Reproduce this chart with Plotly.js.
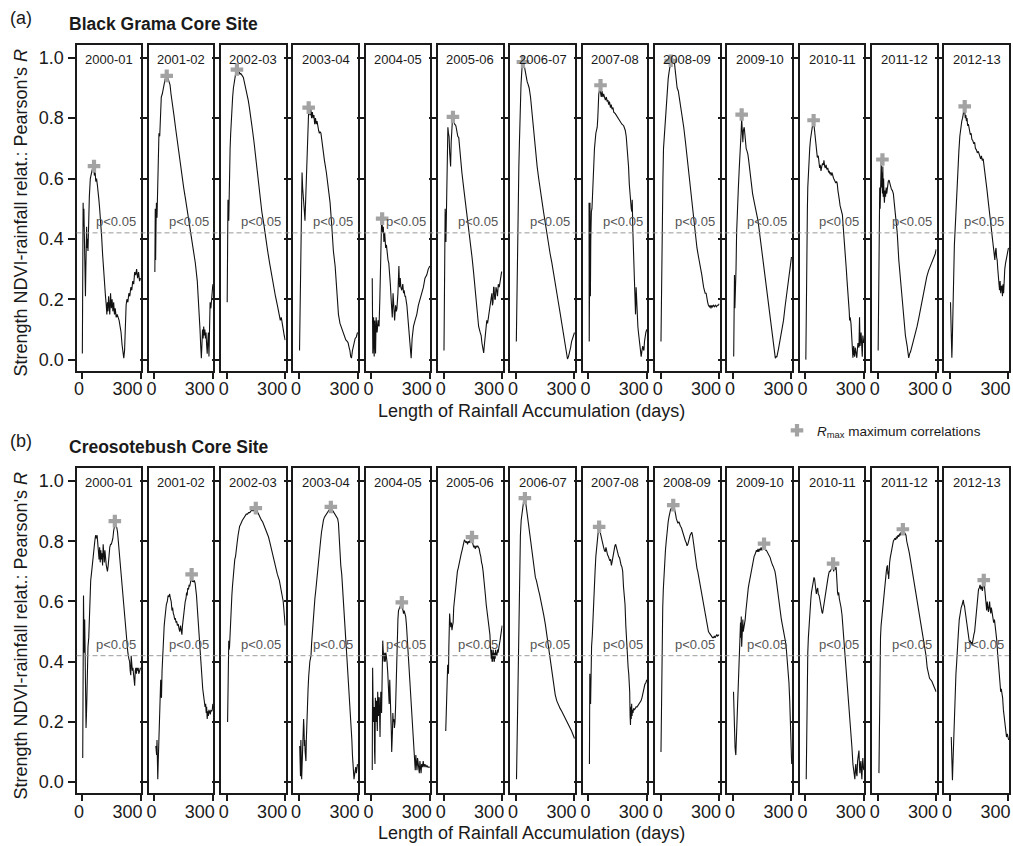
<!DOCTYPE html>
<html><head><meta charset="utf-8">
<script src="https://cdn.plot.ly/plotly-3.0.1.min.js"></script>
<style>html,body{margin:0;padding:0;background:#fff;}#chart{width:1013px;height:846px;}</style>
</head><body><div id="chart"></div>
<script>
// ---------- DATA ----------
const seasons = ['2000-01','2001-02','2002-03','2003-04','2004-05','2005-06','2006-07','2007-08','2008-09','2009-10','2010-11','2011-12','2012-13'];
const xTickVals = [0, 300];
const yTickVals = [0, 0.2, 0.4, 0.6, 0.8, 1.0];
const pThreshold = 0.42;
const pLabel = 'p&lt;0.05';

// Black Grama core site: [days, Pearson R]
const bg2000 = [[1,0.02],[3,0.30],[5,0.52],[7,0.44],[9,0.50],[11,0.40],[13,0.33],[15,0.26],[17,0.21],[19,0.30],[21,0.38],[23,0.44],[25,0.37],[27,0.40],[30,0.36],[33,0.45],[37,0.54],[42,0.60],[47,0.62],[52,0.63],[57,0.635],[60,0.63],[63,0.61],[67,0.62],[70,0.59],[74,0.60],[78,0.58],[82,0.56],[86,0.53],[90,0.50],[95,0.46],[100,0.41],[105,0.35],[110,0.29],[115,0.24],[120,0.21],[124,0.18],[127,0.15],[130,0.19],[133,0.16],[136,0.21],[139,0.17],[142,0.15],[146,0.22],[150,0.17],[154,0.20],[158,0.16],[162,0.19],[166,0.15],[170,0.17],[175,0.14],[180,0.15],[185,0.14],[190,0.13],[195,0.11],[200,0.09],[205,0.05],[210,0.02],[214,0.005],[218,0.03],[222,0.12],[226,0.18],[230,0.20],[235,0.19],[240,0.22],[245,0.21],[250,0.24],[255,0.23],[260,0.26],[265,0.25],[270,0.29],[275,0.28],[280,0.30],[285,0.27],[290,0.29],[295,0.26],[300,0.27]];
const bg2001 = [[2,0.29],[4,0.50],[6,0.33],[8,0.45],[10,0.52],[13,0.47],[16,0.58],[20,0.70],[23,0.75],[27,0.74],[31,0.80],[35,0.87],[40,0.88],[45,0.90],[50,0.91],[55,0.93],[60,0.935],[65,0.93],[70,0.93],[75,0.92],[80,0.91],[85,0.88],[90,0.85],[95,0.83],[100,0.81],[110,0.76],[120,0.71],[130,0.66],[140,0.62],[150,0.57],[160,0.53],[170,0.49],[180,0.44],[190,0.40],[200,0.36],[210,0.32],[220,0.26],[228,0.18],[234,0.10],[238,0.04],[241,0.005],[244,0.05],[247,0.10],[250,0.07],[253,0.11],[256,0.08],[259,0.10],[262,0.07],[265,0.09],[268,0.05],[271,0.02],[274,0.06],[277,0.09],[280,0.01],[283,0.10],[286,0.19],[290,0.17],[294,0.20],[298,0.22],[300,0.25]];
const bg2002 = [[2,0.19],[4,0.45],[6,0.53],[8,0.47],[10,0.46],[12,0.58],[14,0.64],[17,0.70],[20,0.75],[23,0.80],[26,0.84],[30,0.87],[34,0.90],[38,0.92],[42,0.935],[46,0.95],[51,0.958],[56,0.955],[60,0.95],[64,0.952],[68,0.946],[72,0.948],[76,0.94],[80,0.94],[85,0.935],[90,0.92],[95,0.91],[100,0.90],[105,0.88],[110,0.86],[115,0.84],[120,0.82],[130,0.77],[140,0.72],[150,0.66],[160,0.60],[170,0.55],[180,0.49],[190,0.45],[200,0.40],[210,0.36],[220,0.32],[230,0.28],[240,0.24],[250,0.21],[260,0.18],[270,0.15],[275,0.13],[280,0.14],[285,0.11],[290,0.10],[295,0.08],[300,0.065]];
const bg2003 = [[2,0.03],[4,0.12],[6,0.20],[9,0.28],[12,0.40],[15,0.62],[18,0.57],[21,0.55],[24,0.52],[27,0.49],[30,0.46],[33,0.52],[36,0.58],[39,0.66],[42,0.73],[45,0.78],[49,0.826],[53,0.82],[56,0.81],[60,0.83],[64,0.80],[68,0.82],[72,0.80],[76,0.81],[80,0.78],[84,0.80],[88,0.78],[92,0.79],[96,0.77],[100,0.76],[104,0.75],[108,0.755],[112,0.75],[116,0.73],[120,0.70],[130,0.66],[140,0.62],[150,0.57],[159,0.52],[168,0.44],[176,0.36],[185,0.31],[193,0.22],[202,0.15],[210,0.12],[220,0.10],[230,0.085],[240,0.065],[248,0.06],[252,0.055],[257,0.04],[261,0.03],[265,0.01],[269,0.005],[274,0.03],[278,0.045],[283,0.05],[288,0.07],[294,0.075],[300,0.09]];
const bg2004 = [[4,0.27],[7,0.02],[11,0.14],[14,0.01],[17,0.13],[21,0.02],[24,0.14],[29,0.09],[34,0.13],[39,0.11],[43,0.20],[46,0.31],[49,0.40],[52,0.46],[55,0.45],[58,0.42],[61,0.44],[64,0.39],[68,0.42],[73,0.37],[77,0.38],[80,0.35],[85,0.33],[89,0.32],[93,0.29],[97,0.25],[102,0.19],[105,0.15],[107,0.14],[111,0.22],[114,0.16],[119,0.13],[124,0.18],[128,0.16],[131,0.17],[136,0.22],[141,0.31],[144,0.24],[148,0.27],[151,0.24],[156,0.23],[161,0.25],[165,0.22],[168,0.23],[172,0.21],[175,0.21],[182,0.18],[187,0.14],[191,0.10],[195,0.06],[199,0.02],[204,0.005],[209,0.07],[216,0.11],[224,0.13],[233,0.15],[241,0.18],[250,0.20],[258,0.22],[267,0.24],[275,0.27],[284,0.28],[292,0.30],[300,0.31]];
const bg2005 = [[1,0.03],[3,0.20],[5,0.40],[7,0.50],[9,0.45],[11,0.39],[13,0.50],[15,0.60],[18,0.72],[21,0.77],[24,0.75],[27,0.74],[30,0.69],[33,0.66],[35,0.64],[38,0.72],[41,0.77],[44,0.79],[48,0.80],[52,0.79],[56,0.78],[62,0.775],[68,0.75],[72,0.74],[77,0.735],[81,0.70],[85,0.66],[93,0.62],[102,0.57],[110,0.53],[119,0.485],[128,0.44],[136,0.385],[145,0.34],[153,0.29],[162,0.22],[170,0.165],[179,0.11],[187,0.09],[192,0.08],[196,0.055],[201,0.04],[205,0.022],[208,0.045],[213,0.09],[217,0.11],[221,0.13],[225,0.12],[230,0.145],[234,0.16],[238,0.175],[242,0.20],[247,0.22],[250,0.18],[253,0.19],[256,0.24],[258,0.24],[262,0.20],[265,0.20],[268,0.24],[272,0.23],[276,0.21],[280,0.25],[285,0.24],[289,0.26],[293,0.27],[297,0.29],[300,0.29]];
const bg2006 = [[1,0.06],[3,0.18],[5,0.29],[8,0.37],[10,0.45],[12,0.53],[14,0.64],[17,0.72],[20,0.83],[25,0.91],[30,0.965],[35,0.985],[40,0.98],[44,0.965],[48,0.945],[53,0.925],[57,0.92],[60,0.915],[67,0.90],[74,0.87],[78,0.84],[82,0.815],[87,0.78],[91,0.75],[95,0.72],[99,0.685],[104,0.66],[108,0.64],[116,0.60],[125,0.55],[134,0.52],[142,0.485],[150,0.45],[158,0.42],[167,0.385],[175,0.35],[184,0.32],[192,0.285],[200,0.25],[209,0.22],[217,0.19],[226,0.155],[234,0.12],[243,0.09],[252,0.045],[258,0.02],[264,0.002],[269,0.01],[274,0.022],[280,0.04],[285,0.06],[291,0.075],[296,0.08],[300,0.09]];
const bg2007 = [[3,0.52],[4,0.06],[6,0.30],[8,0.52],[10,0.21],[12,0.40],[15,0.49],[18,0.50],[20,0.53],[25,0.64],[31,0.70],[38,0.75],[45,0.77],[48,0.80],[50,0.86],[53,0.88],[56,0.89],[60,0.905],[63,0.88],[66,0.87],[70,0.89],[74,0.87],[78,0.88],[82,0.865],[87,0.86],[92,0.87],[96,0.855],[100,0.86],[104,0.845],[108,0.855],[113,0.835],[117,0.845],[121,0.83],[126,0.835],[130,0.82],[138,0.815],[147,0.805],[155,0.80],[164,0.79],[172,0.78],[181,0.775],[189,0.76],[194,0.74],[198,0.71],[202,0.68],[206,0.64],[210,0.58],[215,0.53],[220,0.50],[223,0.49],[225,0.53],[228,0.43],[232,0.33],[235,0.27],[237,0.23],[240,0.17],[242,0.15],[245,0.24],[247,0.19],[250,0.14],[254,0.11],[257,0.09],[261,0.07],[265,0.045],[268,0.03],[271,0.01],[275,0.03],[279,0.045],[282,0.035],[285,0.03],[288,0.06],[291,0.085],[295,0.09],[300,0.10]];
const bg2008 = [[1,0.06],[3,0.20],[5,0.42],[8,0.48],[11,0.60],[14,0.70],[17,0.73],[20,0.76],[23,0.80],[27,0.85],[30,0.88],[34,0.91],[38,0.93],[42,0.95],[47,0.98],[52,0.99],[57,0.99],[62,0.995],[66,0.99],[70,0.985],[74,0.96],[78,0.935],[84,0.90],[90,0.89],[95,0.87],[101,0.85],[110,0.81],[118,0.77],[127,0.72],[135,0.67],[144,0.63],[152,0.57],[160,0.52],[169,0.46],[177,0.42],[186,0.37],[194,0.34],[203,0.31],[211,0.28],[220,0.24],[228,0.22],[233,0.22],[237,0.20],[241,0.19],[245,0.18],[250,0.175],[254,0.18],[258,0.17],[262,0.18],[266,0.175],[271,0.18],[276,0.175],[281,0.18],[286,0.175],[291,0.18],[296,0.18],[300,0.185]];
const bg2009 = [[3,0.01],[5,0.08],[7,0.28],[9,0.17],[11,0.29],[13,0.24],[15,0.30],[18,0.42],[22,0.51],[27,0.57],[32,0.64],[37,0.69],[41,0.75],[44,0.80],[47,0.73],[50,0.72],[53,0.76],[57,0.77],[60,0.75],[63,0.72],[67,0.70],[72,0.69],[76,0.68],[80,0.66],[86,0.62],[93,0.58],[100,0.55],[106,0.53],[112,0.51],[118,0.50],[123,0.48],[128,0.46],[134,0.43],[140,0.40],[149,0.35],[157,0.31],[166,0.26],[174,0.22],[183,0.18],[191,0.13],[200,0.09],[208,0.045],[213,0.02],[217,0.005],[222,0.01],[225,0.01],[233,0.035],[242,0.065],[250,0.10],[259,0.13],[267,0.175],[276,0.22],[284,0.245],[293,0.29],[300,0.34]];
const bg2010 = [[2,0.0],[4,0.20],[6,0.30],[8,0.42],[10,0.50],[12,0.57],[15,0.62],[18,0.66],[22,0.70],[26,0.73],[30,0.755],[35,0.77],[39,0.775],[42,0.79],[46,0.765],[50,0.74],[53,0.715],[57,0.69],[61,0.67],[66,0.675],[70,0.66],[73,0.635],[76,0.645],[80,0.625],[84,0.64],[88,0.65],[92,0.645],[95,0.66],[99,0.64],[102,0.635],[106,0.645],[110,0.63],[115,0.635],[119,0.62],[122,0.625],[126,0.615],[129,0.62],[133,0.61],[136,0.62],[140,0.605],[145,0.60],[149,0.595],[153,0.585],[156,0.585],[160,0.59],[163,0.585],[167,0.56],[170,0.55],[174,0.53],[178,0.51],[183,0.50],[186,0.49],[190,0.48],[193,0.45],[197,0.42],[201,0.39],[205,0.35],[210,0.30],[214,0.26],[218,0.23],[222,0.20],[225,0.16],[227,0.13],[230,0.14],[234,0.12],[237,0.08],[239,0.045],[242,0.02],[244,0.006],[246,0.03],[248,0.045],[250,0.02],[253,0.01],[256,0.04],[258,0.03],[261,0.015],[264,0.006],[267,0.035],[270,0.055],[273,0.045],[275,0.04],[278,0.14],[281,0.045],[284,0.07],[286,0.09],[289,0.05],[292,0.01],[295,0.08],[298,0.06],[300,0.055]];
const bg2011 = [[2,0.03],[4,0.25],[6,0.44],[8,0.40],[10,0.57],[12,0.50],[14,0.64],[16,0.53],[18,0.66],[20,0.57],[22,0.62],[24,0.55],[26,0.64],[28,0.54],[30,0.60],[32,0.55],[34,0.52],[37,0.56],[40,0.54],[43,0.57],[46,0.55],[50,0.58],[54,0.59],[58,0.595],[62,0.58],[66,0.575],[70,0.565],[75,0.56],[80,0.55],[85,0.52],[90,0.49],[95,0.46],[100,0.42],[108,0.33],[117,0.265],[125,0.20],[134,0.13],[142,0.08],[151,0.045],[159,0.006],[164,0.02],[168,0.025],[176,0.045],[185,0.065],[193,0.09],[202,0.11],[210,0.135],[219,0.165],[227,0.20],[236,0.23],[244,0.25],[252,0.275],[261,0.295],[270,0.31],[278,0.32],[286,0.335],[295,0.35],[300,0.365]];
const bg2012 = [[2,0.19],[4,0.08],[6,0.02],[9,0.006],[11,0.05],[13,0.13],[16,0.22],[19,0.32],[22,0.38],[25,0.42],[30,0.50],[35,0.56],[40,0.63],[45,0.69],[50,0.74],[55,0.77],[60,0.79],[64,0.80],[68,0.815],[72,0.83],[75,0.825],[78,0.80],[81,0.81],[84,0.79],[87,0.80],[90,0.775],[94,0.78],[97,0.765],[100,0.76],[104,0.745],[108,0.75],[112,0.73],[117,0.725],[122,0.715],[126,0.72],[130,0.70],[135,0.695],[140,0.685],[145,0.69],[149,0.68],[153,0.675],[157,0.665],[161,0.675],[165,0.66],[170,0.665],[175,0.64],[181,0.62],[186,0.58],[190,0.56],[195,0.53],[200,0.50],[205,0.47],[210,0.45],[215,0.43],[220,0.39],[224,0.37],[227,0.35],[230,0.33],[233,0.36],[236,0.37],[239,0.34],[242,0.33],[245,0.30],[248,0.27],[251,0.24],[254,0.23],[257,0.26],[260,0.22],[263,0.24],[266,0.245],[269,0.21],[272,0.25],[275,0.22],[278,0.27],[281,0.30],[285,0.32],[290,0.34],[295,0.35],[300,0.37]];
const bgMaxDay = [61, 63, 52, 49, 55, 47, 35, 62, 51, 44, 42, 24, 75];
const bgMaxR = [0.641, 0.94, 0.961, 0.835, 0.467, 0.804, 0.986, 0.909, 0.99, 0.812, 0.793, 0.663, 0.839];

// Creosotebush core site: [days, Pearson R]
const cs2000 = [[3,0.08],[5,0.40],[7,0.62],[9,0.50],[11,0.43],[13,0.54],[15,0.45],[17,0.34],[20,0.18],[22,0.22],[24,0.27],[27,0.42],[30,0.45],[34,0.48],[39,0.60],[44,0.67],[49,0.70],[53,0.73],[57,0.76],[61,0.79],[65,0.80],[69,0.82],[73,0.81],[77,0.82],[81,0.79],[84,0.76],[87,0.74],[90,0.78],[93,0.73],[96,0.77],[99,0.74],[102,0.76],[105,0.72],[108,0.79],[111,0.75],[114,0.73],[117,0.77],[120,0.74],[124,0.72],[127,0.71],[130,0.70],[134,0.72],[138,0.76],[142,0.78],[146,0.79],[150,0.79],[154,0.80],[158,0.81],[162,0.835],[166,0.85],[170,0.862],[174,0.85],[178,0.845],[182,0.83],[186,0.80],[190,0.77],[195,0.735],[200,0.69],[205,0.65],[210,0.61],[215,0.57],[220,0.53],[225,0.49],[230,0.46],[235,0.43],[240,0.41],[244,0.40],[247,0.37],[250,0.355],[252,0.42],[255,0.40],[258,0.37],[261,0.38],[264,0.35],[267,0.33],[270,0.32],[273,0.37],[276,0.38],[279,0.36],[282,0.38],[285,0.37],[288,0.38],[291,0.36],[294,0.37],[297,0.375],[300,0.38]];
const cs2001 = [[7,0.12],[9,0.10],[11,0.09],[13,0.14],[15,0.06],[17,0.01],[19,0.06],[21,0.10],[24,0.20],[27,0.25],[30,0.29],[32,0.34],[34,0.29],[36,0.28],[39,0.37],[43,0.45],[46,0.48],[50,0.52],[53,0.54],[57,0.57],[61,0.59],[66,0.60],[70,0.62],[74,0.615],[78,0.625],[82,0.61],[86,0.60],[90,0.57],[93,0.58],[97,0.56],[100,0.555],[104,0.54],[107,0.545],[111,0.53],[114,0.535],[118,0.52],[122,0.525],[126,0.51],[130,0.50],[134,0.52],[138,0.50],[141,0.49],[144,0.52],[147,0.54],[151,0.55],[155,0.58],[158,0.60],[162,0.61],[165,0.63],[168,0.62],[171,0.645],[175,0.64],[178,0.655],[181,0.65],[185,0.665],[188,0.67],[192,0.685],[195,0.665],[198,0.67],[202,0.665],[205,0.67],[209,0.66],[213,0.64],[216,0.62],[220,0.58],[224,0.54],[228,0.50],[232,0.45],[236,0.41],[240,0.37],[244,0.34],[248,0.31],[252,0.29],[256,0.27],[260,0.25],[263,0.26],[266,0.23],[268,0.25],[271,0.21],[274,0.235],[277,0.22],[280,0.24],[284,0.23],[287,0.225],[290,0.24],[294,0.235],[297,0.24],[300,0.26]];
const cs2002 = [[4,0.20],[6,0.29],[8,0.42],[10,0.47],[12,0.44],[14,0.45],[17,0.51],[20,0.55],[23,0.59],[26,0.62],[29,0.65],[33,0.68],[37,0.72],[41,0.74],[45,0.75],[50,0.77],[54,0.80],[58,0.82],[62,0.84],[66,0.85],[70,0.855],[75,0.865],[80,0.87],[85,0.875],[90,0.88],[95,0.885],[100,0.89],[106,0.89],[112,0.895],[118,0.895],[124,0.90],[130,0.905],[136,0.90],[142,0.91],[148,0.91],[154,0.905],[160,0.895],[166,0.885],[172,0.875],[178,0.87],[184,0.865],[190,0.855],[196,0.85],[202,0.84],[208,0.83],[214,0.815],[220,0.80],[230,0.77],[240,0.74],[250,0.72],[260,0.69],[270,0.67],[280,0.64],[290,0.60],[300,0.52]];
const cs2003 = [[3,0.12],[5,0.09],[7,0.02],[9,0.14],[11,0.05],[13,0.01],[15,0.05],[17,0.09],[19,0.10],[21,0.14],[23,0.21],[25,0.18],[27,0.12],[29,0.14],[31,0.10],[33,0.08],[35,0.07],[37,0.14],[40,0.23],[43,0.27],[46,0.31],[49,0.35],[52,0.39],[55,0.40],[58,0.41],[61,0.42],[64,0.46],[68,0.50],[72,0.54],[77,0.58],[81,0.61],[86,0.64],[90,0.67],[95,0.70],[100,0.73],[105,0.77],[110,0.80],[115,0.83],[120,0.855],[125,0.87],[130,0.88],[135,0.885],[140,0.89],[145,0.895],[150,0.90],[155,0.905],[160,0.91],[165,0.91],[170,0.905],[176,0.90],[182,0.89],[188,0.885],[193,0.88],[198,0.875],[202,0.86],[206,0.80],[210,0.76],[214,0.72],[219,0.69],[223,0.64],[227,0.60],[232,0.55],[236,0.51],[240,0.47],[244,0.43],[248,0.39],[252,0.35],[256,0.30],[261,0.25],[264,0.22],[268,0.17],[271,0.14],[274,0.09],[277,0.05],[280,0.02],[282,0.01],[285,0.025],[288,0.04],[291,0.05],[294,0.03],[297,0.05],[300,0.06]];
const cs2004 = [[4,0.04],[6,0.38],[8,0.28],[10,0.20],[12,0.25],[14,0.25],[16,0.10],[18,0.06],[20,0.28],[22,0.24],[24,0.20],[26,0.27],[28,0.22],[30,0.17],[32,0.30],[34,0.23],[36,0.22],[38,0.28],[40,0.28],[42,0.22],[44,0.15],[46,0.24],[48,0.30],[50,0.27],[52,0.23],[54,0.35],[56,0.40],[58,0.47],[60,0.44],[62,0.42],[65,0.40],[68,0.43],[71,0.40],[74,0.43],[77,0.42],[80,0.40],[84,0.36],[88,0.30],[91,0.26],[94,0.34],[97,0.29],[100,0.24],[102,0.17],[104,0.10],[106,0.12],[108,0.17],[110,0.23],[112,0.20],[115,0.21],[118,0.18],[121,0.20],[124,0.25],[127,0.34],[130,0.40],[133,0.48],[136,0.54],[139,0.57],[143,0.58],[147,0.585],[151,0.59],[155,0.595],[158,0.58],[161,0.575],[165,0.56],[168,0.57],[172,0.56],[176,0.55],[180,0.52],[184,0.48],[188,0.44],[192,0.39],[196,0.34],[200,0.28],[204,0.24],[208,0.20],[212,0.17],[216,0.13],[220,0.10],[223,0.07],[225,0.04],[228,0.09],[231,0.05],[234,0.04],[237,0.08],[240,0.06],[243,0.05],[246,0.03],[249,0.07],[252,0.04],[255,0.03],[258,0.06],[262,0.05],[266,0.07],[270,0.05],[275,0.06],[280,0.05],[285,0.055],[290,0.05],[295,0.05],[300,0.05]];
const cs2005 = [[10,0.17],[12,0.24],[14,0.27],[16,0.33],[18,0.36],[20,0.39],[22,0.38],[24,0.36],[26,0.45],[28,0.54],[30,0.56],[33,0.53],[36,0.515],[39,0.53],[42,0.505],[45,0.52],[48,0.53],[51,0.58],[55,0.61],[59,0.63],[62,0.64],[66,0.67],[70,0.70],[74,0.71],[78,0.725],[82,0.735],[86,0.745],[90,0.76],[94,0.77],[98,0.785],[102,0.80],[106,0.805],[110,0.80],[114,0.795],[118,0.80],[122,0.79],[126,0.80],[130,0.795],[134,0.80],[138,0.81],[142,0.81],[146,0.80],[150,0.795],[154,0.78],[158,0.785],[162,0.775],[166,0.785],[170,0.78],[174,0.785],[178,0.78],[182,0.775],[186,0.76],[190,0.75],[194,0.73],[198,0.72],[202,0.70],[206,0.68],[210,0.65],[214,0.62],[218,0.59],[222,0.57],[226,0.55],[230,0.53],[234,0.51],[237,0.49],[240,0.45],[242,0.43],[244,0.41],[246,0.44],[248,0.40],[250,0.43],[252,0.40],[254,0.44],[256,0.41],[258,0.43],[260,0.40],[262,0.43],[264,0.41],[266,0.44],[268,0.42],[270,0.43],[273,0.42],[276,0.44],[279,0.43],[282,0.45],[285,0.455],[289,0.47],[293,0.49],[297,0.515],[300,0.52]];
const cs2006 = [[2,0.01],[4,0.10],[6,0.20],[8,0.33],[9,0.38],[11,0.46],[13,0.50],[16,0.62],[19,0.75],[22,0.82],[26,0.87],[30,0.895],[34,0.91],[38,0.93],[42,0.935],[45,0.94],[48,0.935],[52,0.915],[56,0.89],[60,0.865],[64,0.855],[67,0.84],[72,0.81],[76,0.79],[82,0.76],[87,0.73],[91,0.71],[95,0.695],[99,0.68],[104,0.67],[108,0.655],[112,0.645],[116,0.635],[120,0.625],[125,0.61],[130,0.60],[135,0.585],[142,0.555],[150,0.525],[158,0.49],[167,0.45],[175,0.405],[184,0.36],[192,0.325],[201,0.29],[209,0.27],[218,0.255],[226,0.245],[235,0.235],[243,0.225],[252,0.215],[260,0.205],[268,0.195],[277,0.18],[285,0.17],[291,0.16],[300,0.145]];
const cs2007 = [[5,0.06],[7,0.36],[9,0.30],[11,0.26],[13,0.40],[16,0.45],[20,0.49],[23,0.55],[26,0.59],[30,0.65],[34,0.70],[38,0.75],[42,0.78],[46,0.81],[50,0.83],[55,0.845],[58,0.835],[62,0.83],[66,0.815],[70,0.80],[74,0.79],[78,0.78],[82,0.77],[86,0.765],[90,0.78],[94,0.765],[98,0.755],[102,0.75],[106,0.745],[110,0.735],[114,0.74],[118,0.72],[121,0.73],[124,0.74],[128,0.76],[132,0.78],[136,0.785],[140,0.79],[143,0.78],[147,0.77],[151,0.76],[155,0.75],[160,0.745],[164,0.73],[168,0.72],[172,0.715],[176,0.70],[180,0.65],[184,0.62],[188,0.59],[192,0.52],[196,0.46],[200,0.41],[204,0.38],[207,0.36],[210,0.33],[212,0.30],[214,0.22],[216,0.19],[218,0.25],[220,0.21],[222,0.26],[224,0.22],[226,0.24],[229,0.23],[232,0.245],[236,0.24],[240,0.245],[245,0.25],[250,0.25],[255,0.255],[260,0.26],[265,0.265],[270,0.27],[275,0.28],[280,0.30],[285,0.32],[290,0.325],[295,0.33],[300,0.34]];
const cs2008 = [[1,0.10],[3,0.25],[5,0.36],[7,0.48],[10,0.58],[13,0.64],[16,0.69],[20,0.72],[24,0.77],[28,0.80],[33,0.845],[38,0.865],[42,0.88],[46,0.895],[50,0.905],[55,0.91],[60,0.915],[64,0.92],[68,0.915],[72,0.905],[76,0.89],[80,0.875],[84,0.87],[88,0.86],[93,0.865],[97,0.855],[101,0.85],[106,0.845],[110,0.835],[114,0.83],[118,0.82],[122,0.81],[127,0.80],[131,0.795],[135,0.785],[139,0.79],[143,0.80],[147,0.815],[151,0.82],[155,0.825],[159,0.83],[163,0.82],[167,0.80],[171,0.78],[175,0.75],[180,0.73],[186,0.71],[190,0.70],[194,0.685],[199,0.67],[203,0.655],[207,0.635],[211,0.62],[216,0.60],[220,0.585],[224,0.57],[228,0.55],[232,0.54],[237,0.525],[241,0.51],[245,0.50],[250,0.495],[254,0.49],[258,0.485],[262,0.485],[266,0.48],[271,0.48],[275,0.485],[279,0.48],[284,0.485],[288,0.49],[292,0.485],[296,0.49],[300,0.49]];
const cs2009 = [[2,0.30],[4,0.22],[6,0.14],[8,0.13],[10,0.115],[12,0.10],[14,0.09],[16,0.13],[18,0.17],[20,0.20],[22,0.24],[24,0.27],[26,0.33],[28,0.35],[30,0.38],[32,0.40],[34,0.44],[36,0.47],[38,0.53],[40,0.48],[42,0.55],[44,0.45],[46,0.52],[48,0.47],[50,0.54],[52,0.50],[55,0.51],[58,0.53],[62,0.54],[66,0.57],[70,0.60],[74,0.62],[78,0.645],[82,0.66],[86,0.675],[90,0.68],[95,0.70],[100,0.72],[104,0.735],[108,0.75],[112,0.755],[116,0.765],[120,0.77],[124,0.765],[128,0.775],[132,0.765],[136,0.775],[140,0.77],[144,0.78],[148,0.77],[152,0.775],[156,0.78],[159,0.79],[163,0.775],[167,0.77],[171,0.77],[175,0.765],[179,0.765],[183,0.755],[187,0.75],[191,0.745],[195,0.735],[199,0.725],[203,0.72],[207,0.715],[211,0.71],[215,0.70],[219,0.685],[223,0.67],[227,0.645],[231,0.625],[235,0.60],[239,0.58],[243,0.56],[247,0.545],[251,0.53],[255,0.515],[259,0.505],[263,0.49],[267,0.48],[271,0.46],[275,0.43],[279,0.40],[283,0.37],[287,0.33],[291,0.27],[294,0.22],[297,0.17],[300,0.10],[301,0.06]];
const cs2010 = [[4,0.01],[6,0.20],[8,0.32],[10,0.38],[12,0.43],[15,0.48],[18,0.52],[21,0.54],[24,0.59],[28,0.61],[31,0.63],[35,0.65],[38,0.665],[41,0.675],[44,0.68],[47,0.675],[50,0.66],[53,0.635],[56,0.625],[60,0.64],[63,0.645],[66,0.625],[70,0.62],[73,0.61],[77,0.59],[81,0.575],[85,0.565],[88,0.56],[91,0.575],[95,0.59],[99,0.605],[103,0.625],[107,0.64],[111,0.655],[115,0.675],[119,0.69],[123,0.70],[127,0.70],[131,0.705],[135,0.71],[139,0.715],[142,0.725],[145,0.70],[148,0.71],[151,0.705],[154,0.71],[157,0.715],[159,0.70],[162,0.65],[165,0.63],[168,0.62],[171,0.63],[174,0.61],[178,0.60],[183,0.58],[188,0.555],[193,0.515],[198,0.47],[203,0.425],[208,0.38],[213,0.335],[218,0.29],[224,0.25],[229,0.205],[234,0.16],[239,0.115],[244,0.06],[249,0.03],[254,0.01],[257,0.05],[259,0.06],[262,0.03],[265,0.02],[268,0.07],[271,0.09],[275,0.105],[278,0.05],[280,0.03],[283,0.06],[285,0.07],[288,0.03],[290,0.01],[293,0.06],[295,0.08],[298,0.05],[300,0.04]];
const cs2011 = [[6,0.03],[8,0.18],[10,0.32],[12,0.42],[14,0.48],[17,0.52],[20,0.54],[23,0.58],[26,0.60],[29,0.61],[32,0.63],[35,0.65],[38,0.67],[41,0.69],[44,0.70],[47,0.715],[50,0.72],[52,0.69],[54,0.70],[56,0.675],[58,0.72],[61,0.73],[64,0.745],[68,0.76],[72,0.775],[76,0.785],[80,0.80],[84,0.805],[88,0.81],[92,0.805],[96,0.815],[100,0.81],[104,0.82],[108,0.815],[112,0.825],[116,0.82],[120,0.83],[124,0.825],[129,0.838],[133,0.835],[137,0.83],[141,0.825],[145,0.82],[149,0.80],[153,0.79],[157,0.775],[161,0.765],[165,0.75],[170,0.73],[176,0.71],[182,0.685],[188,0.66],[194,0.635],[200,0.61],[206,0.59],[212,0.57],[218,0.55],[224,0.52],[230,0.49],[236,0.47],[242,0.45],[248,0.42],[254,0.38],[260,0.36],[266,0.345],[272,0.34],[278,0.335],[284,0.325],[290,0.315],[296,0.31],[300,0.30]];
const cs2012 = [[6,0.15],[8,0.05],[10,0.03],[12,0.006],[14,0.05],[17,0.12],[20,0.20],[24,0.27],[27,0.32],[30,0.36],[34,0.40],[37,0.45],[42,0.49],[47,0.54],[52,0.57],[57,0.58],[62,0.59],[65,0.60],[68,0.605],[71,0.59],[74,0.585],[77,0.57],[80,0.555],[83,0.54],[86,0.52],[89,0.50],[92,0.485],[95,0.48],[98,0.47],[101,0.465],[104,0.47],[107,0.46],[110,0.465],[113,0.455],[116,0.47],[119,0.48],[122,0.49],[126,0.50],[130,0.53],[134,0.56],[138,0.60],[142,0.625],[146,0.64],[150,0.645],[154,0.655],[158,0.64],[162,0.65],[166,0.635],[170,0.66],[173,0.665],[176,0.655],[179,0.635],[182,0.61],[185,0.59],[188,0.57],[191,0.60],[194,0.575],[197,0.565],[200,0.58],[203,0.60],[206,0.575],[209,0.56],[212,0.58],[215,0.565],[218,0.555],[221,0.55],[224,0.53],[228,0.54],[232,0.52],[236,0.50],[240,0.47],[244,0.43],[248,0.39],[252,0.36],[256,0.33],[260,0.30],[263,0.31],[266,0.30],[270,0.28],[274,0.24],[278,0.22],[282,0.19],[286,0.17],[290,0.15],[294,0.16],[298,0.14],[301,0.14]];
const csMaxDay = [168, 191, 149, 163, 156, 145, 45, 55, 64, 159, 142, 129, 173];
const csMaxR = [0.867, 0.69, 0.91, 0.914, 0.597, 0.814, 0.943, 0.848, 0.92, 0.792, 0.726, 0.84, 0.671];

const bgSeries = [bg2000,bg2001,bg2002,bg2003,bg2004,bg2005,bg2006,bg2007,bg2008,bg2009,bg2010,bg2011,bg2012];
const csSeries = [cs2000,cs2001,cs2002,cs2003,cs2004,cs2005,cs2006,cs2007,cs2008,cs2009,cs2010,cs2011,cs2012];

// ---------- LAYOUT ----------
const W = 1013, H = 846;
const FONT = '"Liberation Sans", Arial, Helvetica, sans-serif';
const INK = '#1a1a1a';
const panelLeft0 = 76.5, pitch = 72.33, panelW = 64.5;
const rows = [
  {top: 44.5, bottom: 370.5, series: bgSeries, maxD: bgMaxDay, maxR: bgMaxR, tag: '(a)', title: 'Black Grama Core Site', tagY: 17.5, titleY: 24.5, xTitleY: 411, yTitleY: 213},
  {top: 467.8, bottom: 793, series: csSeries, maxD: csMaxDay, maxR: csMaxR, tag: '(b)', title: 'Creosotebush Core Site', tagY: 440.5, titleY: 447, xTitleY: 833, yTitleY: 636}
];

const traces = [], annotations = [], shapes = [];
const layout = {
  width: W, height: H, autosize: false,
  margin: {l: 0, r: 0, t: 0, b: 0, pad: 0},
  paper_bgcolor: '#fff', plot_bgcolor: '#fff',
  font: {family: FONT, color: INK},
  showlegend: true,
  legend: {x: 777/W, y: 1 - 430.5/H, xanchor: 'left', yanchor: 'middle', bgcolor: 'rgba(0,0,0,0)', borderwidth: 0, font: {size: 13.5, color: INK}, itemwidth: 30}
};

rows.forEach((row, r) => {
  const yDom = [1 - row.bottom/H, 1 - row.top/H];
  seasons.forEach((season, i) => {
    const n = r*13 + i + 1;
    const xs = n === 1 ? '' : String(n);
    const left = panelLeft0 + i*pitch;
    layout['xaxis' + xs] = {
      domain: [left/W, (left + panelW)/W], anchor: 'y' + xs,
      range: [-29, 302.5], tickvals: xTickVals,
      ticks: 'outside', ticklen: 6, tickwidth: 2, tickcolor: INK,
      ticklabelposition: 'outside left', ticklabelshift: 4, ticklabelstandoff: 1,
      ticklabeloverflow: 'allow',
      showline: true, mirror: true, linewidth: 2, linecolor: INK,
      showgrid: false, zeroline: false, fixedrange: true,
      tickfont: {size: 18, color: INK, family: FONT}
    };
    layout['yaxis' + xs] = {
      domain: yDom, anchor: 'x' + xs,
      range: [-0.036, 1.044], tickvals: yTickVals, tickformat: '.1f',
      showticklabels: i === 0,
      ticks: 'outside', ticklen: 7, tickwidth: 2, tickcolor: INK,
      showline: true, mirror: true, linewidth: 2, linecolor: INK,
      showgrid: false, zeroline: false, fixedrange: true,
      tickfont: {size: 18, color: INK, family: FONT}
    };
    const data = row.series[i];
    traces.push({
      type: 'scatter', mode: 'lines', xaxis: 'x' + xs, yaxis: 'y' + xs,
      x: data.map(p => p[0]), y: data.map(p => p[1]),
      line: {color: '#111', width: 1.1}, showlegend: false, hoverinfo: 'skip'
    });
    annotations.push({
      xref: 'x' + xs + ' domain', yref: 'y' + xs, x: 0.5, y: 0.995,
      text: season, showarrow: false, xanchor: 'center', yanchor: 'middle',
      font: {size: 13, color: INK, family: FONT}
    });
    annotations.push({
      xref: 'x' + xs, yref: 'y' + xs, x: 175, y: 0.457,
      text: pLabel, showarrow: false, xanchor: 'center', yanchor: 'middle',
      font: {size: 13, color: '#555', family: FONT}
    });
  });
  // markers after lines so they sit on top
  seasons.forEach((season, i) => {
    const n = r*13 + i + 1;
    const xs = n === 1 ? '' : String(n);
    traces.push({
      type: 'scatter', mode: 'markers', xaxis: 'x' + xs, yaxis: 'y' + xs,
      x: [row.maxD[i]], y: [row.maxR[i]],
      marker: {symbol: 'cross', size: 10.5, color: '#a3a3a3', line: {width: 0}},
      name: '<i>R</i><sub>max</sub> maximum correlations',
      showlegend: (r === 0 && i === 0), hoverinfo: 'skip'
    });
  });
  const ys = r === 0 ? '' : '14';
  shapes.push({
    type: 'line', xref: 'paper', yref: 'y' + ys,
    x0: panelLeft0/W, x1: (panelLeft0 + 12*pitch + panelW)/W,
    y0: pThreshold, y1: pThreshold,
    line: {color: '#9a9a9a', width: 1, dash: '5px,3px'}
  });
  annotations.push({xref: 'paper', yref: 'paper', x: 8/W, y: 1 - row.tagY/H, text: row.tag, showarrow: false, xanchor: 'left', yanchor: 'middle', font: {size: 18, color: INK, family: FONT}});
  annotations.push({xref: 'paper', yref: 'paper', x: 66.5/W, y: 1 - row.titleY/H, text: '<b>' + row.title + '</b>', showarrow: false, xanchor: 'left', yanchor: 'middle', font: {size: 17.5, color: INK, family: FONT}});
  annotations.push({xref: 'paper', yref: 'paper', x: 531/W, y: 1 - row.xTitleY/H, text: 'Length of Rainfall Accumulation (days)', showarrow: false, xanchor: 'center', yanchor: 'middle', font: {size: 18, color: INK, family: FONT}});
  annotations.push({xref: 'paper', yref: 'paper', x: 20.5/W, y: 1 - row.yTitleY/H, text: "Strength NDVI-rainfall relat.: Pearson's <i>R</i>", textangle: -90, showarrow: false, xanchor: 'center', yanchor: 'middle', font: {size: 18, color: INK, family: FONT}});
});

layout.annotations = annotations;
layout.shapes = shapes;
Plotly.newPlot('chart', traces, layout, {staticPlot: true, displayModeBar: false});
</script>
</body></html>
